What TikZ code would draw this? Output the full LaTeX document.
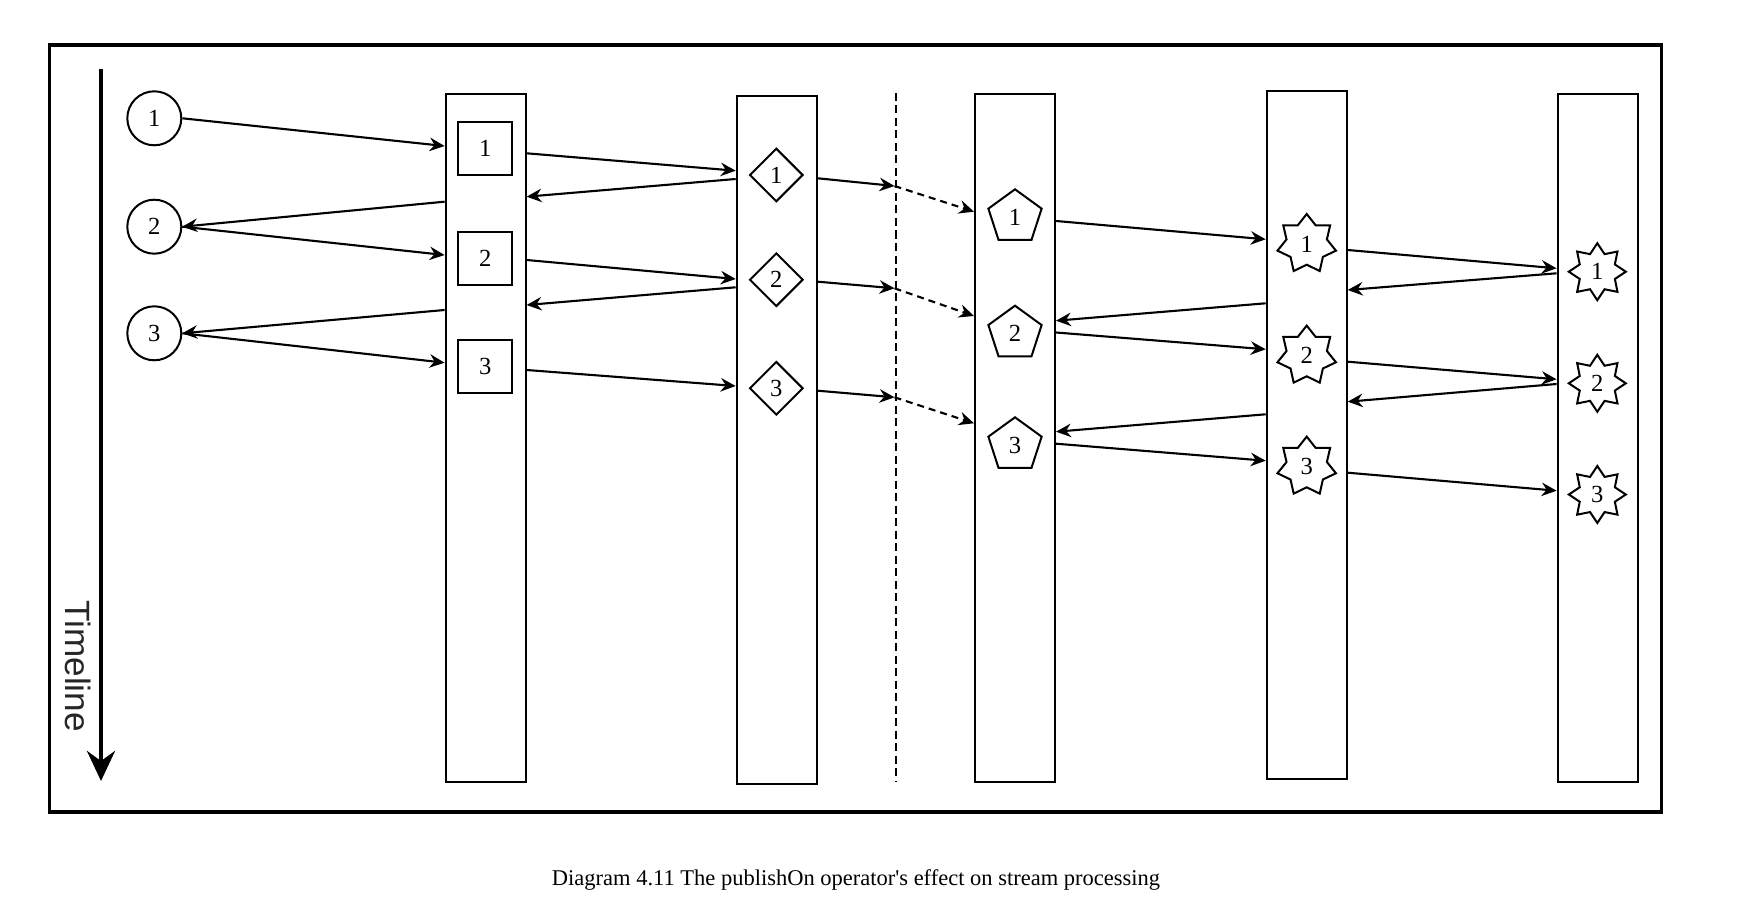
\documentclass[tikz,border=0pt]{standalone}
\usepackage{fontspec}
\setmainfont{Liberation Serif}[Ligatures=TeXOff]
\newfontfamily\timelinefont{Liberation Sans}
\usetikzlibrary{shapes.geometric, arrows.meta, positioning}

\tikzset{
  lane/.style={draw, line width=0.4mm, minimum width=16mm, minimum height=137.6mm, inner sep=0pt},
  item/.style={draw, line width=0.4mm, inner sep=0pt, font=\fontsize{14}{16}\selectfont},
  msg/.style={line width=0.42mm, -{Stealth[length=3mm, width=2.7mm, inset=1mm]}},
  hop/.style={msg, dash pattern=on 1.4mm off 1mm},
}

\begin{document}
\begin{tikzpicture}[x=0.2mm, y=-0.2mm]
  \useasboundingbox (0,0) rectangle (1740,918);
  \draw[line width=0.7mm] (49.5,45) rectangle (1661.5,812);

  % timeline
  \coordinate (t0) at (101,69);
  \coordinate (t1) at (101,781);
  \draw[line width=0.85mm, -{Stealth[length=6mm, width=5.6mm, inset=2mm]}] (t0) -- (t1);
  \node[rotate=-90, font=\timelinefont\fontsize{20}{24}\selectfont, text=black!85] (tl) at (78,666) {Timeline};

  % lanes
  \node[lane] (c1) at (485.6,438) {};
  \node[lane] (c2) at (776.7,440.3) {};
  \node[lane] (c3) at (1015,438) {};
  \node[lane] (c4) at (1306.7,435.3) {};
  \node[lane] (c5) at (1597.6,438) {};

  % thread boundary
  \coordinate (cut top) at (896,93);
  \coordinate (cut bottom) at (896,782);
  \draw[line width=0.35mm, dash pattern=on 1.6mm off 0.9mm] (cut top) -- (cut bottom);

  % elements
  \node[item, circle, minimum size=10.8mm] (cr1) at (154.3,118.3) {1};
  \node[item, circle, minimum size=10.8mm] (cr2) at (154.3,226.7) {2};
  \node[item, circle, minimum size=10.8mm] (cr3) at (154.3,333.3) {3};

  \node[item, minimum width=10.8mm, minimum height=10.6mm] (sq1) at (485.3,148.3) {1};
  \node[item, minimum width=10.8mm, minimum height=10.6mm] (sq2) at (485.3,258.3) {2};
  \node[item, minimum width=10.8mm, minimum height=10.6mm] (sq3) at (485.3,366.7) {3};

  \node[item, diamond, minimum size=10.7mm] (dm1) at (776.3,175) {1};
  \node[item, diamond, minimum size=10.7mm] (dm2) at (776.3,279.7) {2};
  \node[item, diamond, minimum size=10.7mm] (dm3) at (776.3,388.3) {3};

  \node[item, regular polygon, regular polygon sides=5, minimum size=11.2mm] (pg1) at (1015,217.3) {1};
  \node[item, regular polygon, regular polygon sides=5, minimum size=11.2mm] (pg2) at (1015,333.7) {2};
  \node[item, regular polygon, regular polygon sides=5, minimum size=11.2mm] (pg3) at (1015,445.3) {3};

  \node[item, star, star points=7, star point ratio=1.45, minimum size=12mm] (st1) at (1306.7,244) {1};
  \node[item, star, star points=7, star point ratio=1.45, minimum size=12mm] (st2) at (1306.7,355.6) {2};
  \node[item, star, star points=7, star point ratio=1.45, minimum size=12mm] (st3) at (1306.7,466.6) {3};

  \node[item, star, star points=8, star point ratio=1.5, minimum size=11.4mm] (ob1) at (1597.3,271.7) {1};
  \node[item, star, star points=8, star point ratio=1.5, minimum size=11.4mm] (ob2) at (1597.3,383.3) {2};
  \node[item, star, star points=8, star point ratio=1.5, minimum size=11.4mm] (ob3) at (1597.3,494.5) {3};

  % source <-> first lane
  \draw[msg] (cr1.east) -- (c1.west |- 0,146);
  \draw[msg] (c1.west |- 0,201.7) -- (cr2.east);
  \draw[msg] (cr2.east) -- (c1.west |- 0,255);
  \draw[msg] (c1.west |- 0,310) -- (cr3.east);
  \draw[msg] (cr3.east) -- (c1.west |- 0,362.7);

  % first lane <-> second lane
  \draw[msg] (c1.east |- 0,153.3) -- (c2.west |- 0,170.7);
  \draw[msg] (c2.west |- 0,179) -- (c1.east |- 0,196.7);
  \draw[msg] (c1.east |- 0,260) -- (c2.west |- 0,279);
  \draw[msg] (c2.west |- 0,287.3) -- (c1.east |- 0,305);
  \draw[msg] (c1.east |- 0,370) -- (c2.west |- 0,386);

  % across the boundary
  \coordinate (hand1) at (894.5,186);
  \coordinate (hand2) at (894.5,288.3);
  \coordinate (hand3) at (894.5,397.3);
  \draw[msg] (c2.east |- 0,178.3) -- (hand1);
  \draw[msg] (c2.east |- 0,281.7) -- (hand2);
  \draw[msg] (c2.east |- 0,390.7) -- (hand3);
  \draw[hop] (hand1) -- (c3.west |- 0,211.7);
  \draw[hop] (hand2) -- (c3.west |- 0,316);
  \draw[hop] (hand3) -- (c3.west |- 0,423.3);

  % third lane <-> fourth lane
  \draw[msg] (c3.east |- 0,221) -- (c4.west |- 0,239.3);
  \draw[msg] (c4.west |- 0,303.3) -- (c3.east |- 0,320.7);
  \draw[msg] (c3.east |- 0,332.5) -- (c4.west |- 0,349.3);
  \draw[msg] (c4.west |- 0,414.3) -- (c3.east |- 0,431.7);
  \draw[msg] (c3.east |- 0,443.7) -- (c4.west |- 0,460.7);

  % fourth lane <-> subscriber
  \draw[msg] (c4.east |- 0,250) -- (c5.west |- 0,268.3);
  \draw[msg] (c5.west |- 0,273.3) -- (c4.east |- 0,290);
  \draw[msg] (c4.east |- 0,361.7) -- (c5.west |- 0,379.3);
  \draw[msg] (c5.west |- 0,384) -- (c4.east |- 0,401.7);
  \draw[msg] (c4.east |- 0,472.7) -- (c5.west |- 0,490.7);

  \node[font=\fontsize{12.8}{15}\selectfont] (cap) at (856,880) {Diagram 4.11 The publishOn operator's effect on stream processing};
\end{tikzpicture}
\end{document}
